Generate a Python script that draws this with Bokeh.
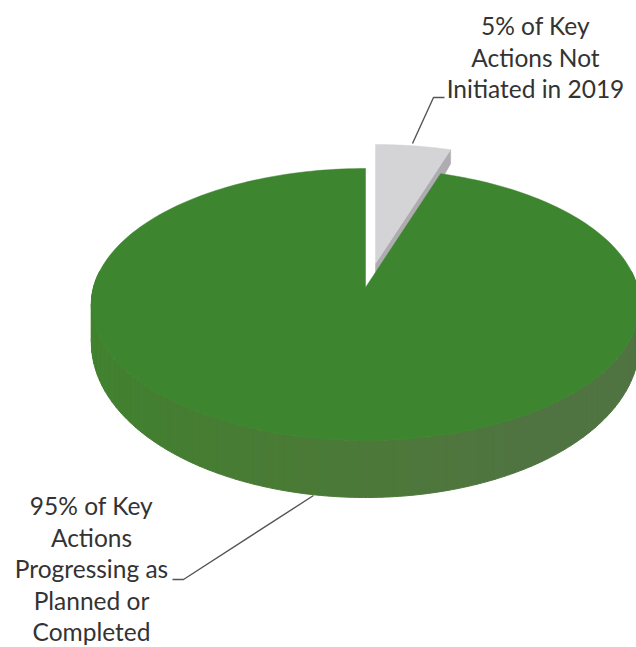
import numpy as np
from bokeh.plotting import figure
from bokeh.models import Range1d
from bokeh.core.properties import value
from bokeh.embed import file_html
from bokeh.resources import INLINE

# Data
categories = ["Not initiated", "Progressing or completed"]
shares = [5, 95]
label_not_initiated = ["5% of Key", "Actions Not", "Initiated in 2019"]
label_progress = ["95% of Key", "Actions", "Progressing as", "Planned or", "Completed"]

W, H = 636, 647
p = figure(width=W, height=H, output_backend="svg", toolbar_location=None,
           x_range=Range1d(0, W), y_range=Range1d(H, 0),
           x_axis_type=None, y_axis_type=None, min_border=0,
           background_fill_color="white", border_fill_color="white")
p.grid.visible = False
p.outline_line_color = None

CX, R = 365, 272
APEX_Y, A, C = 287, -98, 0.125


def project(theta_deg, r=1.0):
    t = np.radians(theta_deg)
    u, v = r * np.sin(t), r * np.cos(t)
    den = C * v + 1
    return CX + R * u / den, (A * v + APEX_Y) / den, v


def depth(v):
    return 35 - 22 * v


def face(start, end, dx=0, dy=0):
    th = np.linspace(start, end, 240)
    x, y, _ = project(th)
    ax, ay, _ = project(np.array([0.0]), 0.0)
    return np.r_[ax, x] + dx, np.r_[ay, y] + dy


small_deg = 360 * shares[0] / sum(shares)

# Exploded grey slice
OFF_X, OFF_Y = 10, -24
ax, ay, av = project(np.array([0.0]), 0.0)
cx_, cy_, cv = project(np.array([small_deg]))
side_x = np.r_[ax, cx_, cx_, ax] + OFF_X
side_y = np.r_[ay, cy_, cy_ + depth(cv), ay + depth(av)] + OFF_Y
p.patch(side_x, side_y, fill_color="#aeacb0", line_color="#aeacb0", line_width=0.5)
gx, gy = face(0, small_deg, OFF_X, OFF_Y)
p.patch(gx, gy, fill_color="#d4d4d6", line_color="#d4d4d6", line_width=0.5)

# Green rim, shaded from the lit left side to the darker right side
stops_deg = [83, 150, 190, 235, 277]
stops_rgb = np.array([[0x50, 0x73, 0x42], [0x50, 0x74, 0x41], [0x4a, 0x7a, 0x36],
                      [0x42, 0x80, 0x30], [0x3f, 0x84, 0x2f]], dtype=float)
edges = np.linspace(83, 277, 98)
xs, ys, cols = [], [], []
for a, b in zip(edges[:-1], edges[1:]):
    th = np.linspace(a, b, 4)
    tx, ty, tv = project(th)
    bx, by = tx, ty + depth(tv)
    xs.append(np.r_[tx, bx[::-1]])
    ys.append(np.r_[ty, by[::-1]])
    mid = (a + b) / 2
    rgb = [int(round(np.interp(mid, stops_deg, stops_rgb[:, i]))) for i in range(3)]
    cols.append("#%02x%02x%02x" % tuple(rgb))
p.patches(xs, ys, fill_color=cols, line_color=cols, line_width=1)

# Green top face
fx, fy = face(small_deg, 360)
p.patch(fx, fy, fill_color="#3e8530", line_color="#3e8530", line_width=0.5)

# Leader lines
p.line([412, 433, 444], [143, 97, 97], line_color="#555555", line_width=1.4)
p.line([313, 183, 172], [495, 579, 579], line_color="#555555", line_width=1.4)

# Labels
FONT = value("Lato")
p.text([535] * 3, [25, 57, 88], text=label_not_initiated, text_font=FONT,
       text_font_size="24.5px", text_color="#333333", text_align="center",
       text_baseline="middle")
p.text([91] * 5, [505, 536.5, 568, 599.5, 631], text=label_progress, text_font=FONT,
       text_font_size="24.5px", text_color="#333333", text_align="center",
       text_baseline="middle")

open("out.html", "w").write(file_html(p, INLINE))
